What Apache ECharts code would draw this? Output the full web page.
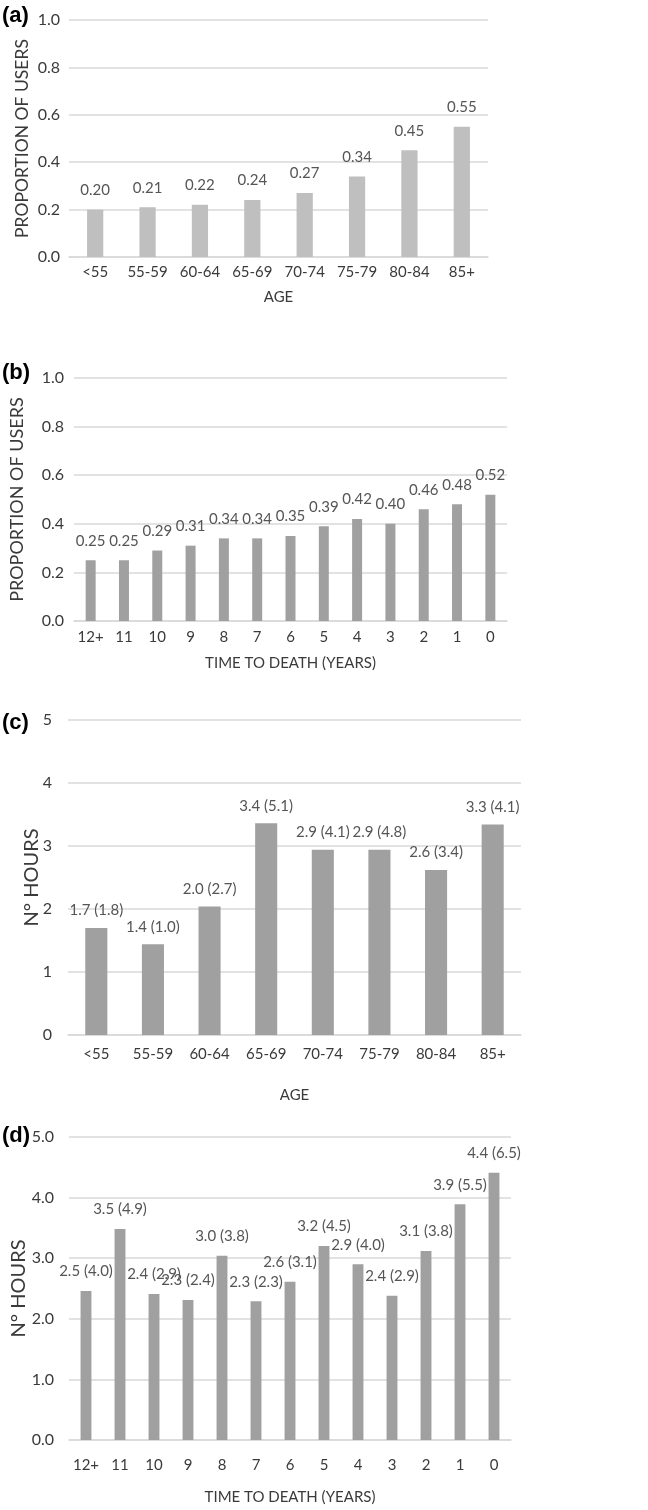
<!DOCTYPE html>
<html>
<head>
<meta charset="utf-8">
<script src="https://cdn.jsdelivr.net/npm/echarts@6/dist/echarts.min.js"></script>
<style>
  html, body { margin: 0; padding: 0; background: #fff; }
  #chart { width: 648px; height: 1510px; }
</style>
</head>
<body>
<div id="chart"></div>
<script>
// data
var ageCats = ['<55', '55-59', '60-64', '65-69', '70-74', '75-79', '80-84', '85+'];
var deathCats = ['12+', '11', '10', '9', '8', '7', '6', '5', '4', '3', '2', '1', '0'];

var usersByAge = [0.20, 0.21, 0.22, 0.24, 0.27, 0.34, 0.45, 0.55];
var usersByDeath = [0.25, 0.25, 0.29, 0.31, 0.34, 0.34, 0.35, 0.39, 0.42, 0.40, 0.46, 0.48, 0.52];

var hoursByAge = [1.70, 1.44, 2.04, 3.36, 2.94, 2.94, 2.62, 3.34];
var hoursByAgeSd = [1.8, 1.0, 2.7, 5.1, 4.1, 4.8, 3.4, 4.1];

var hoursByDeath = [2.46, 3.48, 2.41, 2.31, 3.04, 2.29, 2.61, 3.20, 2.90, 2.38, 3.12, 3.89, 4.41];
var hoursByDeathSd = [4.0, 4.9, 2.9, 2.4, 3.8, 2.3, 3.1, 4.5, 4.0, 2.9, 3.8, 5.5, 6.5];

var FONT = 'Lato';
var TXT = '#3a3a3a';
var LBL = '#555555';
var GRID = '#d9d9d9';

function xAx(idx, cats, name, gap, margin) {
    return {
        type: 'category', gridIndex: idx, data: cats,
        name: name, nameLocation: 'middle', nameGap: gap, nameMoveOverlap: false,
        nameTextStyle: { fontFamily: FONT, fontSize: 15, color: TXT },
        axisLine: { lineStyle: { color: GRID, width: 1.5 } },
        axisTick: { show: false },
        axisLabel: { fontFamily: FONT, fontSize: 15, color: TXT, margin: margin, interval: 0 }
    };
}

function yAx(idx, max, interval, decimals, name, nameSize, gap, labelMargin) {
    return {
        type: 'value', gridIndex: idx, min: 0, max: max, interval: interval,
        name: name, nameLocation: 'middle', nameGap: gap, nameMoveOverlap: false,
        nameTextStyle: { fontFamily: FONT, fontSize: nameSize, color: TXT },
        axisLine: { show: false }, axisTick: { show: false },
        splitLine: { lineStyle: { color: GRID, width: 1.5 } },
        axisLabel: {
            fontFamily: FONT, fontSize: 16, color: TXT, margin: labelMargin,
            formatter: function (v) { return v.toFixed(decimals); }
        }
    };
}

function pairLabel(sd) {
    return function (p) {
        return p.value.toFixed(1) + ' (' + sd[p.dataIndex].toFixed(1) + ')';
    };
}

var chart = echarts.init(document.getElementById('chart'));

var option = {
    backgroundColor: '#fff',
    animation: false,
    graphic: [
        { type: 'text', left: 2, top: 5, style: { text: '(a)', font: 'bold 22px "Liberation Sans"', fill: '#000' } },
        { type: 'text', left: 2, top: 362, style: { text: '(b)', font: 'bold 22px "Liberation Sans"', fill: '#000' } },
        { type: 'text', left: 2, top: 712, style: { text: '(c)', font: 'bold 22px "Liberation Sans"', fill: '#000' } },
        { type: 'text', left: 2, top: 1125, style: { text: '(d)', font: 'bold 22px "Liberation Sans"', fill: '#000' } }
    ],
    grid: [
        { left: 69, top: 20, width: 419, height: 237 },
        { left: 69, top: 378, width: 438, height: 243 },
        { left: 68, top: 720, width: 453, height: 315 },
        { left: 69, top: 1137, width: 442, height: 303 }
    ],
    xAxis: [
        xAx(0, ageCats, 'AGE', 33, 8),
        xAx(1, deathCats, 'TIME TO DEATH (YEARS)', 35, 9),
        xAx(2, ageCats, 'AGE', 53, 12),
        xAx(3, deathCats, 'TIME TO DEATH (YEARS)', 50, 18)
    ],
    yAxis: [
        yAx(0, 1, 0.2, 1, 'PROPORTION OF USERS', 17.5, 38, 9),
        yAx(1, 1, 0.2, 1, 'PROPORTION OF USERS', 18, 48, 10),
        yAx(2, 5, 1, 0, 'N° HOURS', 20, 26, 16),
        yAx(3, 5, 1, 1, 'N° HOURS', 20, 40, 15)
    ],
    series: [
        {
            type: 'bar', xAxisIndex: 0, yAxisIndex: 0, data: usersByAge,
            barWidth: '31%', itemStyle: { color: '#bfbfbf' },
            label: {
                show: true, position: 'top', distance: 12,
                fontFamily: FONT, fontSize: 15, color: LBL,
                formatter: function (p) { return p.value.toFixed(2); }
            }
        },
        {
            type: 'bar', xAxisIndex: 1, yAxisIndex: 1, data: usersByDeath,
            barWidth: '30%', itemStyle: { color: '#a0a0a0' },
            label: {
                show: true, position: 'top', distance: 12,
                fontFamily: FONT, fontSize: 15, color: LBL,
                formatter: function (p) { return p.value.toFixed(2); }
            }
        },
        {
            type: 'bar', xAxisIndex: 2, yAxisIndex: 2, data: hoursByAge,
            barWidth: '39%', itemStyle: { color: '#a0a0a0' },
            label: {
                show: true, position: 'top', distance: 10,
                fontFamily: FONT, fontSize: 15, color: LBL,
                formatter: pairLabel(hoursByAgeSd)
            }
        },
        {
            type: 'bar', xAxisIndex: 3, yAxisIndex: 3, data: hoursByDeath,
            barWidth: '32%', itemStyle: { color: '#a0a0a0' },
            label: {
                show: true, position: 'top', distance: 12,
                fontFamily: FONT, fontSize: 15, color: LBL,
                formatter: pairLabel(hoursByDeathSd)
            }
        }
    ]
};

chart.setOption(option);
</script>
</body>
</html>
